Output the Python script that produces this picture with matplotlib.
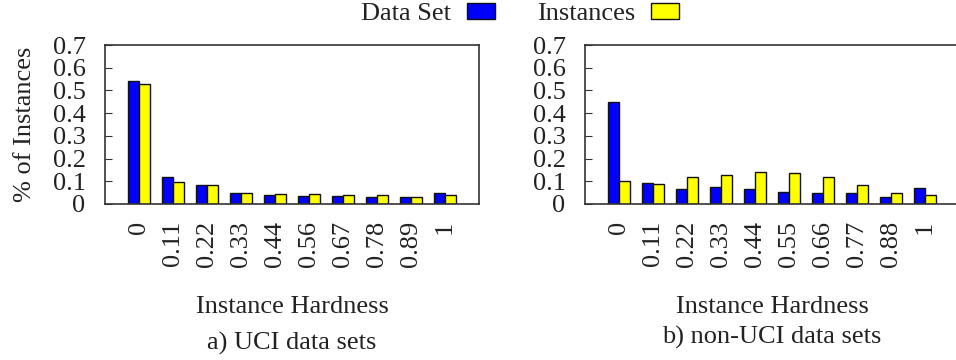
import matplotlib
matplotlib.use('Agg')
import matplotlib.pyplot as plt
import numpy as np

plt.rcParams['font.family'] = ['Liberation Serif', 'DejaVu Serif']

# Данні
labels_uci = ['0', '0.11', '0.22', '0.33', '0.44', '0.56', '0.67', '0.78', '0.89', '1']
labels_non = ['0', '0.11', '0.22', '0.33', '0.44', '0.55', '0.66', '0.77', '0.88', '1']
uci_dataset = [0.543, 0.117, 0.082, 0.048, 0.041, 0.035, 0.034, 0.029, 0.032, 0.050]
uci_instances = [0.527, 0.098, 0.085, 0.048, 0.045, 0.044, 0.041, 0.041, 0.032, 0.041]
non_dataset = [0.451, 0.094, 0.068, 0.076, 0.065, 0.053, 0.050, 0.050, 0.032, 0.072]
non_instances = [0.100, 0.090, 0.117, 0.129, 0.142, 0.137, 0.119, 0.084, 0.047, 0.041]

FS = 19
TXT = '#222222'
W = 0.32

fig = plt.figure(figsize=(9.56, 3.6), dpi=100)


def draw_panel(rect, labels, ds, inst, ylabel=None):
    ax = fig.add_axes(rect)
    x = np.arange(len(labels))
    b1 = ax.bar(x - W / 2, ds, W, color='#0000ff', edgecolor='#111111', linewidth=1)
    b2 = ax.bar(x + W / 2, inst, W, color='#ffff00', edgecolor='#111111', linewidth=1)
    ax.set_xlim(-1, 10)
    ax.set_ylim(0, 0.7)
    ax.set_xticks(x)
    ax.set_xticklabels(labels, rotation=90, fontsize=FS, color=TXT)
    ax.set_yticks(np.arange(0, 0.71, 0.1))
    ax.set_yticklabels(['0'] + ['%.1f' % v for v in np.arange(0.1, 0.71, 0.1)],
                       fontsize=FS, color=TXT)
    ax.tick_params(axis='x', length=0, pad=12)
    ax.tick_params(axis='y', direction='in', length=5, pad=14, color='#333333')
    for s in ax.spines.values():
        s.set_linewidth(1.2)
        s.set_color('#333333')
    ax.set_xlabel('Instance Hardness', fontsize=FS, color=TXT, labelpad=21)
    if ylabel:
        ax.set_ylabel(ylabel, fontsize=FS, color=TXT, labelpad=12)
    return ax, b1, b2


ax1, b1, b2 = draw_panel([105 / 956, 156 / 360, 374 / 956, 159 / 360],
                         labels_uci, uci_dataset, uci_instances,
                         ylabel='% of Instances')
ax2, _, _ = draw_panel([585 / 956, 156 / 360, 374 / 956, 159 / 360],
                       labels_non, non_dataset, non_instances)

fig.text(292 / 956, 1 - 343 / 360, 'a) UCI data sets', fontsize=FS, color=TXT,
         ha='center', va='center')
fig.text(772 / 956, 1 - 337 / 360, 'b) non-UCI data sets', fontsize=FS, color=TXT,
         ha='center', va='center')

fig.legend([b1, b2], ['Data Set', 'Instances'], loc='center',
           bbox_to_anchor=(520 / 956, 1 - 14 / 360), ncol=2, frameon=False,
           markerfirst=False, fontsize=FS, handlelength=1.05, handleheight=0.6,
           handletextpad=0.6, columnspacing=1.6, labelcolor=TXT)

plt.savefig('out.png', dpi=100)
